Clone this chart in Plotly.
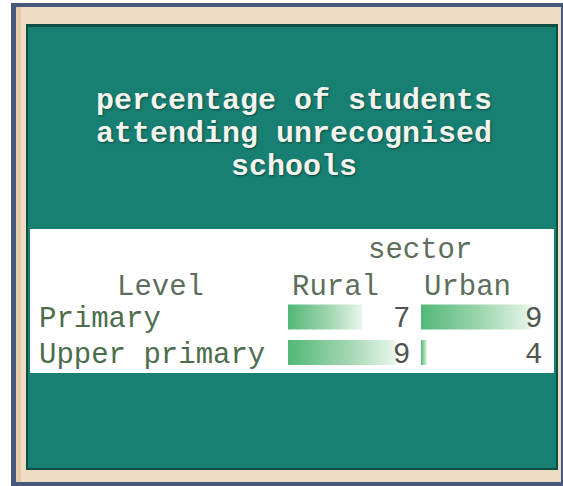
import plotly.graph_objects as go

# ---- data ----
levels = ["Primary", "Upper primary"]
sectors = ["Rural", "Urban"]
rural = [7, 9]
urban = [9, 4]
title_lines = ["percentage of students", "attending unrecognised", "schools"]
sector_title = "sector"
level_title = "Level"

W, H = 563, 486


def px(x):
    return x / W


def py(y):
    return 1 - y / H


MONO = "Liberation Mono, Courier New, monospace"
BAR_SCALE = [[0, "rgb(82,184,118)"], [0.55, "rgb(160,214,176)"], [1, "rgb(232,246,236)"]]

fig = go.Figure()

# per-column axis settings: (axis name, x-domain in px, value range)
columns = [
    ("x", (288, 396), (2.647, 9), rural),
    ("x2", (421, 532), (3.714, 9), urban),
]
half = 0.35
for ax, _, rng, vals in columns:
    for i, v in enumerate(vals):
        base = rng[0]
        fig.add_trace(go.Scatter(
            x=[base, v, v, base, base],
            y=[i - half, i - half, i + half, i + half, i - half],
            xaxis=ax, yaxis="y",
            mode="lines", line=dict(width=0),
            fill="toself",
            fillgradient=dict(type="horizontal", colorscale=BAR_SCALE),
            hoverinfo="skip", showlegend=False,
        ))


def rect(x0, x1, y0, y1, color):
    return dict(type="rect", xref="paper", yref="paper", layer="below",
                x0=px(x0), x1=px(x1), y0=py(y1), y1=py(y0),
                fillcolor=color, line_width=0)


shapes = [
    rect(11, 563, 3, 486, "#46597a"),     # outer slate frame
    rect(16, 561, 7, 482, "#eedcc4"),     # wooden frame
    rect(16, 21, 7, 482, "#e3cba9"),
    rect(26, 558, 24, 470, "#0d4f45"),    # board shadow edge
    rect(28, 556, 27, 468, "#187f73"),    # chalkboard
    rect(30, 554, 229, 373, "#ffffff"),   # table panel
]

annotations = []
title_y = [101, 134, 167]
for t, yy in zip(title_lines, title_y):
    annotations.append(dict(
        text=f"<b>{t}</b>", x=px(294), y=py(yy),
        xanchor="center",
        font=dict(family=MONO, size=30, color="#f4f4ee",
                  shadow="1px 1px 2px rgba(0,40,30,0.6)"),
    ))

hdr_font = dict(family=MONO, size=29, color="#5d6e5d")
annotations += [
    dict(text=sector_title, x=px(420), y=py(250), xanchor="center", font=hdr_font),
    dict(text=level_title, x=px(160), y=py(287), xanchor="center", font=hdr_font),
    dict(text=sectors[0], x=px(335), y=py(287), xanchor="center", font=hdr_font),
    dict(text=sectors[1], x=px(467), y=py(287), xanchor="center", font=hdr_font),
]
row_y = [319, 355]
for lvl, yy in zip(levels, row_y):
    annotations.append(dict(text=lvl, x=px(37), y=py(yy), xanchor="left",
                            font=dict(family=MONO, size=29, color="#4c6c4c")))
num_font = dict(family=MONO, size=29, color="#4f544f")
for vals, xr in [(rural, 412), (urban, 544)]:
    for v, yy in zip(vals, row_y):
        annotations.append(dict(text=str(v), x=px(xr), y=py(yy), xanchor="right",
                                font=num_font))
for a in annotations:
    a.setdefault("xref", "paper")
    a.setdefault("yref", "paper")
    a.setdefault("yanchor", "middle")
    a.setdefault("showarrow", False)

fig.update_layout(
    width=W, height=H,
    margin=dict(l=0, r=0, t=0, b=0),
    paper_bgcolor="white", plot_bgcolor="rgba(0,0,0,0)",
    shapes=shapes, annotations=annotations,
    xaxis=dict(domain=[px(288), px(396)], range=list(columns[0][2]),
               visible=False, fixedrange=True),
    xaxis2=dict(domain=[px(421), px(532)], range=list(columns[1][2]),
                visible=False, fixedrange=True, anchor="y"),
    yaxis=dict(domain=[py(370.25), py(299.25)], range=[1.5, -0.5],
               visible=False, fixedrange=True),
    showlegend=False,
)

fig.write_html("out.html", config={"displayModeBar": False})
